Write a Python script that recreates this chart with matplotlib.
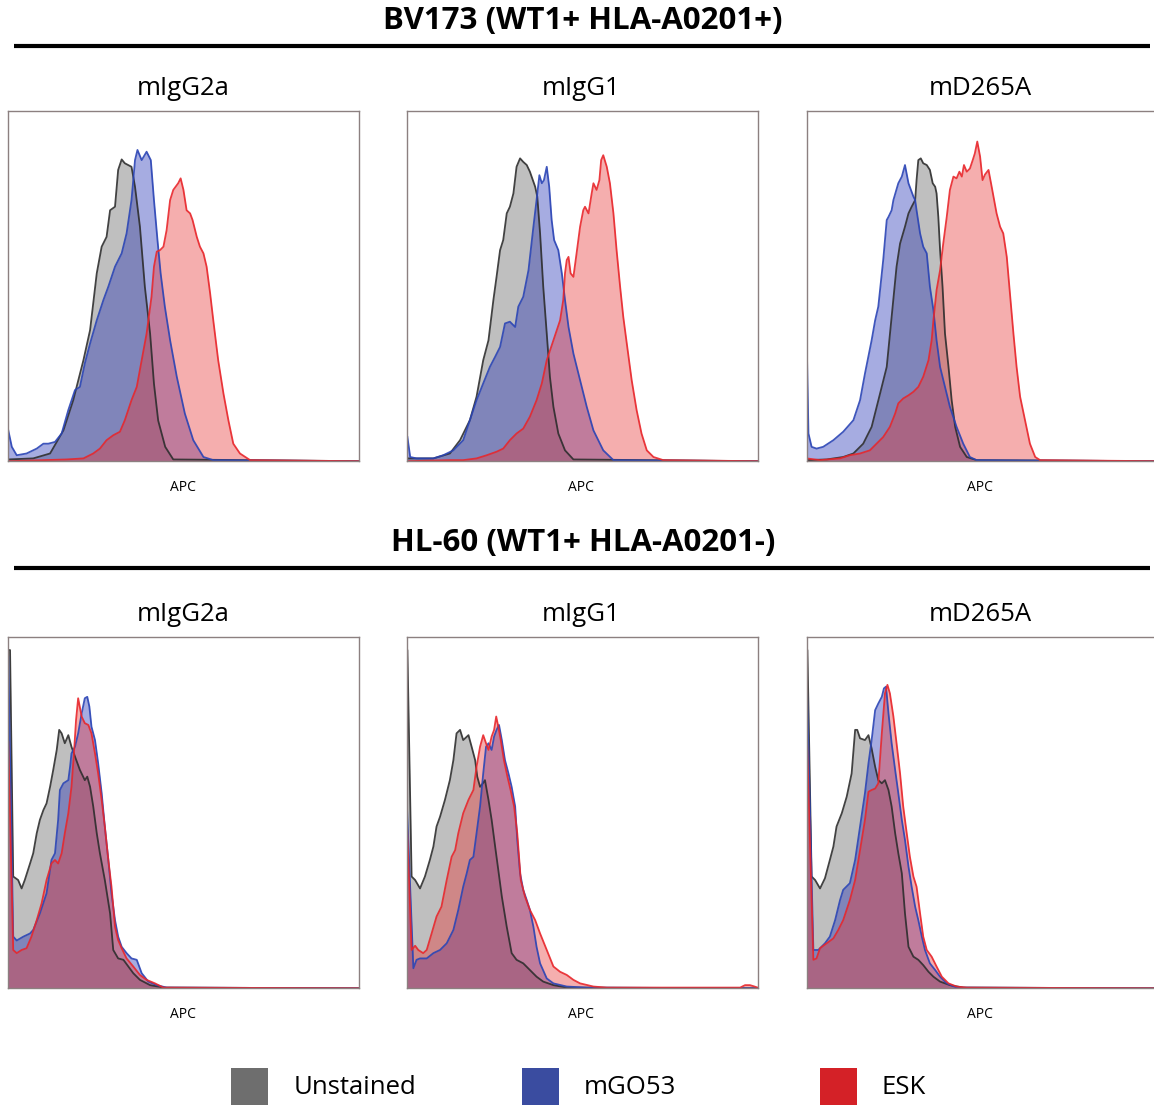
import matplotlib
matplotlib.use("Agg")
import matplotlib.pyplot as plt
from matplotlib.patches import Rectangle

# histogram outlines: x = APC channel (0-100 of the axis),
# y = event count as % of axis height
# --- BV173, mIgG2a
p1_gray_x = [0, 7.1, 11.9, 15.7, 18.5, 21.4, 23.3, 25.2, 26.6, 28.0, 29.0, 30.4, 31.3, 32.3, 33.2, 35.1, 36.1, 37.5, 38.9, 40.4, 41.5, 42.7, 44.7, 47.0, 100]
p1_gray_y = [0.5, 0.8, 2.2, 8.8, 17.4, 28.8, 37.4, 53.6, 61.2, 64.0, 71.6, 72.6, 83.1, 86.1, 85.0, 84.0, 78.3, 66.9, 49.8, 36.4, 22.1, 11.6, 4.1, 0.5, 0]
p1_blue_x = [0, 1, 2.4, 5.2, 8.1, 10, 11.4, 13.3, 15.2, 17.1, 19, 20.4, 21.8, 23.3, 25.2, 27.1, 28.5, 30.4, 32.3, 33.7, 35.1, 36.1, 36.8, 38, 39.4, 40.6, 41.5, 42.5, 43.4, 44.6, 46.1, 48, 50.3, 52.7, 55.6, 58.4, 100]
p1_blue_y = [8.8, 4.1, 1.7, 2.2, 3.6, 5, 5, 5.5, 7.9, 14.6, 20.3, 21.2, 27.9, 33.6, 40.2, 46, 49.8, 55.5, 59.3, 65, 74.5, 85.9, 88.8, 85.9, 88.3, 85.9, 74.5, 63.1, 53.6, 44.1, 34.5, 24.1, 13.6, 6, 1.2, 0.3, 0]
p1_red_x = [0, 10, 16.6, 21.4, 24.2, 26.1, 28, 29.9, 31.8, 33.2, 35.1, 36.6, 38, 39.4, 40.8, 41.5, 42.3, 43.2, 44.2, 45.1, 46.1, 47, 48.4, 49.1, 49.9, 50.8, 51.8, 52.5, 53.7, 54.6, 55.6, 56.5, 57.5, 58.4, 59.8, 61.3, 62.7, 64.1, 66, 68.9, 100]
p1_red_y = [0, 0.3, 0.5, 0.8, 2.2, 3.6, 6, 7.4, 8.4, 11.7, 17.4, 21.2, 28.8, 36.4, 46.9, 55.5, 59.8, 60.2, 61.2, 65.9, 74.5, 77.4, 79.3, 80.7, 77.4, 71.6, 70.7, 68.8, 64, 61.2, 59.3, 55.5, 47.9, 40.2, 28.8, 19.3, 11.7, 5, 2.2, 0.3, 0]

# --- BV173, mIgG1
p2_gray_x = [0, 7.6, 12.3, 15.2, 18, 19.9, 21.8, 23.3, 24.7, 25.6, 26.6, 27.5, 28.5, 29.4, 30.4, 31.3, 32.3, 33.2, 34.2, 35.1, 36.6, 37.2, 38, 38.9, 39.9, 40.8, 41.8, 43.2, 45.1, 47.5, 100]
p2_gray_y = [0.8, 0.8, 2.2, 6, 11.7, 18.4, 28.8, 34.5, 46, 52.6, 60.2, 63.1, 70.7, 72.6, 76.4, 84, 86.4, 85.4, 84.5, 82.6, 78.3, 75.5, 65, 49.8, 36.4, 24.1, 15.5, 7.9, 3.1, 0.5, 0]
p2_blue_x = [0.2, 1, 2.8, 7.6, 10.4, 13.3, 16.1, 18, 19.9, 21.8, 23.7, 25.2, 26.6, 28, 29.4, 30.9, 31.8, 33.2, 34.7, 36.1, 37, 37.8, 38.5, 39.1, 39.9, 40.6, 41.3, 42, 43.2, 44.2, 45.1, 46.1, 47.5, 49.4, 51.3, 53.2, 56, 58.9, 100]
p2_blue_y = [6.9, 1.2, 0.8, 0.8, 1.7, 3.1, 6, 11.7, 17.4, 22.2, 26.9, 29.8, 32.6, 39.3, 39.8, 38.3, 44.1, 46.9, 54.5, 66.9, 74.5, 81.6, 79.3, 80.2, 84, 78.3, 68.8, 63.1, 60.2, 53.6, 46, 38.3, 30.7, 23.1, 15.5, 8.8, 3.1, 0.3, 0]
p2_red_x = [0, 12.3, 16.1, 19.9, 22.8, 25.6, 27.5, 29.4, 31.3, 33.2, 35.1, 37, 38.5, 39.9, 41.8, 43.7, 44.6, 45.1, 45.6, 46.1, 46.7, 47.5, 48.4, 49.4, 50.3, 50.8, 51.8, 52.7, 53.2, 54.1, 54.9, 55.4, 56, 57, 57.9, 58.9, 59.8, 60.8, 61.7, 62.7, 64.1, 65.5, 66.9, 68.4, 70.3, 73.1, 100]
p2_red_y = [0, 0.3, 0.3, 0.8, 1.7, 2.7, 3.6, 6, 7.9, 9.3, 12.7, 17.4, 22.2, 28.8, 34.5, 40.2, 46, 53.6, 57.4, 58.3, 53.6, 52.6, 59.3, 66.9, 71.6, 72.6, 70.7, 76.4, 79.3, 77.4, 80.2, 85.9, 87.3, 84, 79.3, 70.7, 60.2, 49.8, 41.2, 33.6, 23.1, 14.6, 7.9, 3.1, 1.2, 0.3, 0]

# --- BV173, mD265A
p3_gray_x = [0, 5.7, 10.4, 13.3, 16.1, 18.5, 20.9, 22.8, 24.2, 25.6, 26.6, 28, 29, 29.9, 30.9, 31.3, 31.8, 32.5, 33.2, 34.2, 35.1, 35.9, 36.6, 37, 37.5, 38, 38.7, 39.4, 40.4, 41.3, 42.3, 43.7, 45.6, 48.4, 100]
p3_gray_y = [0.3, 0.5, 1.2, 2.2, 5, 9.8, 19.3, 26.9, 41.2, 55.5, 62.1, 66.9, 70.7, 72.6, 74.5, 80.2, 85.9, 86.4, 85, 84.5, 83.1, 79.3, 78.3, 76.4, 69.7, 60.2, 49.8, 36.4, 26.9, 17.4, 9.8, 4.1, 1.2, 0.3, 0]
p3_blue_x = [0, 0.5, 1.4, 2.8, 4.7, 7.6, 10.4, 13.3, 15.2, 16.6, 18.5, 19.5, 20.4, 21.8, 22.8, 23.3, 24.2, 24.7, 26.1, 27.1, 28, 29, 30.4, 30.9, 31.3, 32.3, 33.2, 34.2, 35.1, 36.1, 37, 38, 39.4, 40.8, 42.7, 44.6, 46.5, 48.4, 100]
p3_blue_y = [34.5, 7.9, 4.1, 3.6, 4.1, 6, 8.4, 11.7, 17.4, 25, 34.5, 40.2, 44.1, 57.4, 68.8, 69.7, 71.6, 74.5, 79.3, 81.2, 84.5, 79.3, 75.5, 74.5, 71.6, 65, 61.2, 59.3, 49.8, 43.1, 34.5, 26.9, 21.2, 15.5, 9.8, 5, 1.2, 0.3, 0]
p3_red_x = [0, 3.8, 9.5, 12.3, 15.2, 18, 19.9, 21.8, 23.7, 25.2, 26.1, 27.5, 29, 30.4, 31.8, 33.2, 34.7, 35.6, 36.1, 37, 38, 38.9, 39.9, 40.8, 41.8, 42.7, 43.5, 44.2, 44.8, 45.6, 46.5, 47.3, 47.9, 48.6, 49.4, 50.1, 50.8, 51.8, 52.7, 53.4, 54.1, 55.1, 56, 57, 57.9, 58.9, 59.8, 60.8, 62.2, 63.6, 65.1, 66.5, 100]
p3_red_y = [0.8, 0.3, 0.8, 1.7, 2.2, 3.1, 5, 6.9, 9.8, 13.6, 16.5, 17.9, 18.8, 19.8, 21.2, 24.1, 28.8, 34.5, 40.2, 48.8, 54.5, 62.1, 69.7, 77.4, 81.2, 80.7, 82.6, 81.2, 84.5, 82.6, 83.5, 85.9, 87.8, 91.2, 86.9, 80.2, 81.8, 83.1, 78.3, 74.5, 70.7, 66.9, 65, 58.3, 47.9, 36.4, 26.9, 18.4, 11.7, 5, 1.2, 0.3, 0]

# --- HL-60, mIgG2a
p4_gray_x = [0, 0.5, 1.4, 2.8, 3.8, 4.7, 6.2, 7.1, 8.1, 9, 10, 10.9, 11.9, 12.8, 13.8, 14.5, 15.2, 16.1, 17.1, 18, 19, 20.4, 21.8, 22.5, 23.3, 24.2, 25.2, 26.1, 27.5, 29, 29.9, 31.3, 32.8, 34.2, 35.6, 37.5, 40.4, 44.2, 100]
p4_gray_y = [96.2, 96.2, 31.8, 30.8, 28.4, 30.8, 35.5, 38.4, 44.1, 47.9, 50.7, 52.6, 57.3, 62.1, 67.8, 73.5, 72.5, 69.7, 72, 68.7, 65.9, 62.1, 59.2, 60.2, 57.3, 51.7, 44.1, 38.4, 30.8, 21.3, 10.9, 8.5, 8.1, 6.2, 4.3, 2.4, 0.9, 0.2, 0]
p4_blue_x = [0, 1.4, 2.4, 4.3, 6.2, 7.1, 9, 10.9, 12.3, 13.3, 14.2, 14.7, 15.7, 17.1, 17.6, 18, 19, 19.9, 20.9, 21.8, 22.5, 23.1, 23.7, 24.7, 25.6, 26.6, 27.5, 28.5, 29.4, 30.4, 31.3, 32.3, 33.7, 35.1, 36.6, 38, 39.9, 42.3, 45.1, 100]
p4_blue_y = [94.3, 14.7, 13.6, 14.7, 15.6, 16.6, 21.3, 27, 36.5, 38.4, 47.9, 56.4, 58.3, 59.2, 63, 66.8, 68.7, 72.5, 78.2, 82.5, 82.9, 80.1, 74.4, 70.6, 64, 55.5, 46, 36.5, 27, 19.4, 14.7, 11.8, 10, 8.5, 8.1, 4.3, 1.9, 0.9, 0.2, 0]
p4_red_x = [0, 1.4, 2.4, 3.8, 5.2, 6.6, 8.1, 9.5, 10.9, 12.3, 13.3, 14.2, 15.2, 16.1, 17.1, 18, 18.7, 19.3, 19.9, 20.9, 21.8, 22.8, 23.7, 24.7, 25.6, 26.6, 27.5, 28.5, 29.4, 30.4, 31.3, 32.3, 33.7, 35.6, 37.5, 39.4, 41.8, 44.2, 100]
p4_red_y = [70.1, 10.9, 10, 10.9, 11.4, 14.7, 19.4, 24.2, 30.8, 35.5, 36.5, 35.5, 38.4, 44.1, 49.8, 57.3, 66.8, 76.3, 82.5, 77.3, 75.4, 74.9, 72.5, 66.8, 61.1, 53.6, 46, 36.5, 28.9, 17.5, 13.7, 11.4, 8.5, 6.2, 3.8, 2.4, 1.4, 0.2, 0]

# --- HL-60, mIgG1
p5_gray_x = [0, 0.2, 1.4, 2.4, 3.8, 5.2, 6.6, 7.6, 8.5, 9.5, 10.9, 12.3, 13.3, 14.2, 15.2, 16.1, 17.6, 18.5, 19.5, 20.1, 20.9, 21.7, 22.3, 23.3, 24.2, 25.2, 26.1, 27.1, 28.5, 29.9, 31.3, 33.2, 35.1, 37, 38.9, 41.8, 45.6, 100]
p5_gray_y = [96.2, 96.2, 31.8, 30.8, 28.4, 31.8, 36.5, 40.3, 46, 48.8, 53.6, 59.2, 64.9, 72.5, 73.5, 70.6, 72, 68.7, 64.9, 60.2, 57.3, 58.3, 59.2, 53.6, 47.9, 40.3, 33.6, 26.1, 17.5, 10, 8.1, 7.1, 5.2, 3.3, 1.9, 0.9, 0.2, 0]
p5_blue_x = [0, 1.9, 2.8, 3.8, 5.7, 7.6, 9.5, 11.4, 13.3, 14.7, 16.1, 17.1, 18, 19, 19.9, 20.9, 21.8, 22.6, 23.3, 24.2, 24.9, 25.6, 26.3, 27.1, 28, 29, 29.9, 30.9, 31.5, 32.3, 33.2, 34.2, 35.1, 36.1, 37, 38, 39.9, 41.8, 45.6, 51.3, 100]
p5_blue_y = [53.6, 5.7, 8.1, 8.5, 8.5, 10, 10.9, 12.8, 16.6, 22.3, 28.9, 32.7, 36.5, 37.4, 44.1, 51.7, 61.1, 68.7, 69.7, 67.8, 71.6, 73.5, 74.9, 70.6, 64.9, 61.1, 57.3, 51.7, 42.2, 32.7, 28, 25.1, 22.3, 17.5, 11.8, 7.1, 2.8, 1.4, 0.5, 0.2, 0]
p5_red_x = [0, 1.4, 2.4, 3.3, 4.7, 5.7, 7.1, 8.5, 9.9, 11.4, 12.8, 13.8, 14.7, 16.1, 17.6, 19, 19.9, 20.9, 21.8, 22.6, 23.3, 24.2, 24.9, 25.5, 26.1, 26.8, 27.7, 28.7, 29.6, 30.6, 31.5, 32.5, 33.7, 35.1, 36.6, 38, 39.9, 41.8, 43.7, 45.6, 47.5, 49.4, 53.2, 57, 95, 96.4, 97.8, 99.1, 100]
p5_red_y = [48.8, 10.9, 12.1, 10.9, 10, 10.9, 15.6, 20.4, 23.2, 30.8, 37.4, 39.3, 44.1, 49.8, 53.6, 56.4, 63, 68.7, 72, 69.7, 67.8, 71.6, 73.5, 77.3, 74.4, 70.6, 64.9, 60.2, 56.4, 51.7, 44.1, 30.8, 26.1, 22.3, 19.4, 15.6, 10.9, 6.2, 4.7, 3.8, 2.4, 1.4, 0.5, 0.2, 0.2, 0.9, 0.9, 0.5, 0.2]

# --- HL-60, mD265A
p6_gray_x = [0, 0.2, 1.4, 2.4, 3.8, 5.2, 6.6, 7.6, 8.5, 10, 11.4, 12.8, 13.8, 14.4, 15.2, 16.6, 17.6, 18.5, 19.5, 20.4, 21.4, 22.3, 23.3, 24.2, 25.2, 26.1, 27.1, 28, 29, 30.4, 31.8, 33.2, 34.7, 36.1, 38, 40.8, 44.6, 100]
p6_gray_y = [96.2, 96.2, 31.8, 30.8, 28.4, 31.3, 36.5, 40.3, 46, 49.8, 54.5, 61.1, 73.5, 73.5, 71.1, 70.6, 72, 68.2, 63, 59.2, 58.3, 59.2, 56.4, 51.7, 44.1, 38.4, 32.7, 21.3, 11.8, 9, 8.1, 6.6, 4.7, 3.3, 1.9, 0.9, 0.2, 0]
p6_blue_x = [0, 1.9, 3.3, 5.2, 6.6, 8.1, 9.5, 10.4, 12.3, 13.8, 15.2, 16.6, 17.6, 18.5, 19.5, 20.4, 21.4, 22, 22.6, 23.3, 24.2, 25.2, 26.1, 27.1, 28, 29, 29.9, 30.9, 31.8, 32.8, 33.7, 35.1, 36.6, 38, 39.9, 42.7, 100]
p6_blue_y = [88.6, 10.9, 10.9, 12.8, 14.7, 19.4, 25.1, 28, 29.9, 36.5, 46, 55.5, 64, 70.6, 79.1, 81, 82.9, 85.3, 85.8, 78.2, 69.7, 62.1, 55.5, 47.9, 42.2, 34.6, 28.9, 23.2, 19.4, 14.7, 10.9, 7.1, 5.2, 3.3, 1.4, 0.2, 0]
p6_red_x = [0, 1.9, 2.8, 3.8, 5.7, 7.6, 9, 10.4, 12.3, 13.8, 15.2, 16.6, 17.6, 18.5, 19.5, 20.4, 21.4, 22.3, 23, 23.7, 24.7, 25.6, 26.6, 27.5, 28.5, 29.4, 30.4, 31.3, 32.3, 33.2, 34.2, 35.6, 37, 38.5, 40.4, 42.7, 45.6, 100]
p6_red_y = [73.9, 8.1, 8.5, 11.4, 12.8, 14.2, 16.6, 19.4, 25.1, 30.8, 39.3, 47.9, 55.9, 56.4, 56.8, 58.3, 72.5, 83.9, 86.3, 83.9, 77.3, 69.7, 61.1, 51.7, 44.1, 37.4, 31.8, 28.9, 21.3, 14.7, 10.9, 9, 6.2, 3.3, 1.4, 0.5, 0.2, 0]

antibodies = ["mIgG2a", "mIgG1", "mD265A"]
cell_lines = ["BV173 (WT1+ HLA-A0201+)", "HL-60 (WT1+ HLA-A0201-)"]
series_names = ["Unstained", "mGO53", "ESK"]

panels = [
    [(p1_gray_x, p1_gray_y), (p1_blue_x, p1_blue_y), (p1_red_x, p1_red_y)],
    [(p2_gray_x, p2_gray_y), (p2_blue_x, p2_blue_y), (p2_red_x, p2_red_y)],
    [(p3_gray_x, p3_gray_y), (p3_blue_x, p3_blue_y), (p3_red_x, p3_red_y)],
    [(p4_gray_x, p4_gray_y), (p4_blue_x, p4_blue_y), (p4_red_x, p4_red_y)],
    [(p5_gray_x, p5_gray_y), (p5_blue_x, p5_blue_y), (p5_red_x, p5_red_y)],
    [(p6_gray_x, p6_gray_y), (p6_blue_x, p6_blue_y), (p6_red_x, p6_red_y)],
]

FILL = ["#7a7a7a", "#2230b4", "#e83535"]
FILL_ALPHA = [0.48, 0.4, 0.4]
EDGE = ["#2e2e2e", "#2a44b5", "#e8262b"]
SWATCH = ["#6e6e6e", "#3a4ca0", "#d42127"]

W, H = 1154, 1105
fig = plt.figure(figsize=(W / 100, H / 100), dpi=100)
plt.rcParams["font.family"] = ["Open Sans", "DejaVu Sans"]

# overlay in pixel coords for headers, rules and legend
ov = fig.add_axes([0, 0, 1, 1])
ov.set_xlim(0, W)
ov.set_ylim(H, 0)
ov.axis("off")

col_left = [8.3, 406.7, 806.7]
col_center = [183, 581, 980]
row_top = [110.7, 636.7]
row_h = [350.5, 351.6]
ax_w = 351

for r in range(2):
    hy = 21 if r == 0 else 543
    ov.text(583, hy, cell_lines[r], ha="center", va="center",
            fontsize=22.5, fontweight="bold")
    ly = 46 if r == 0 else 568
    ov.plot([14, 1150], [ly, ly], color="black", lw=3, solid_capstyle="butt")
    for c in range(3):
        ov.text(col_center[c], row_top[r] - 22, antibodies[c], ha="center",
                va="center", fontsize=18.5)
        ov.text(col_center[c], row_top[r] + row_h[r] + 26, "APC", ha="center",
                va="center", fontsize=10)

        top, hgt = row_top[r], row_h[r]
        ax = fig.add_axes([col_left[c] / W, 1 - (top + hgt) / H, ax_w / W, hgt / H])
        for k, (xs, ys) in enumerate(panels[r * 3 + c]):
            ax.fill_between(xs, ys, 0, color=FILL[k], alpha=FILL_ALPHA[k], lw=0)
            ax.plot(xs, ys, color=EDGE[k], lw=1.3, alpha=0.9)
        ax.set_xlim(0, 100)
        ax.set_ylim(0, 100)
        ax.set_xticks([])
        ax.set_yticks([])
        for s in ax.spines.values():
            s.set_color("#8c8080")
            s.set_linewidth(1)

# legend
sw_x = [231, 522, 820]
tx_x = [294, 584, 882]
for k in range(3):
    ov.add_patch(Rectangle((sw_x[k], 1068), 37, 40, color=SWATCH[k], lw=0))
    ov.text(tx_x[k], 1088, series_names[k], ha="left", va="center", fontsize=18.5)

fig.savefig("out.png", dpi=100)
